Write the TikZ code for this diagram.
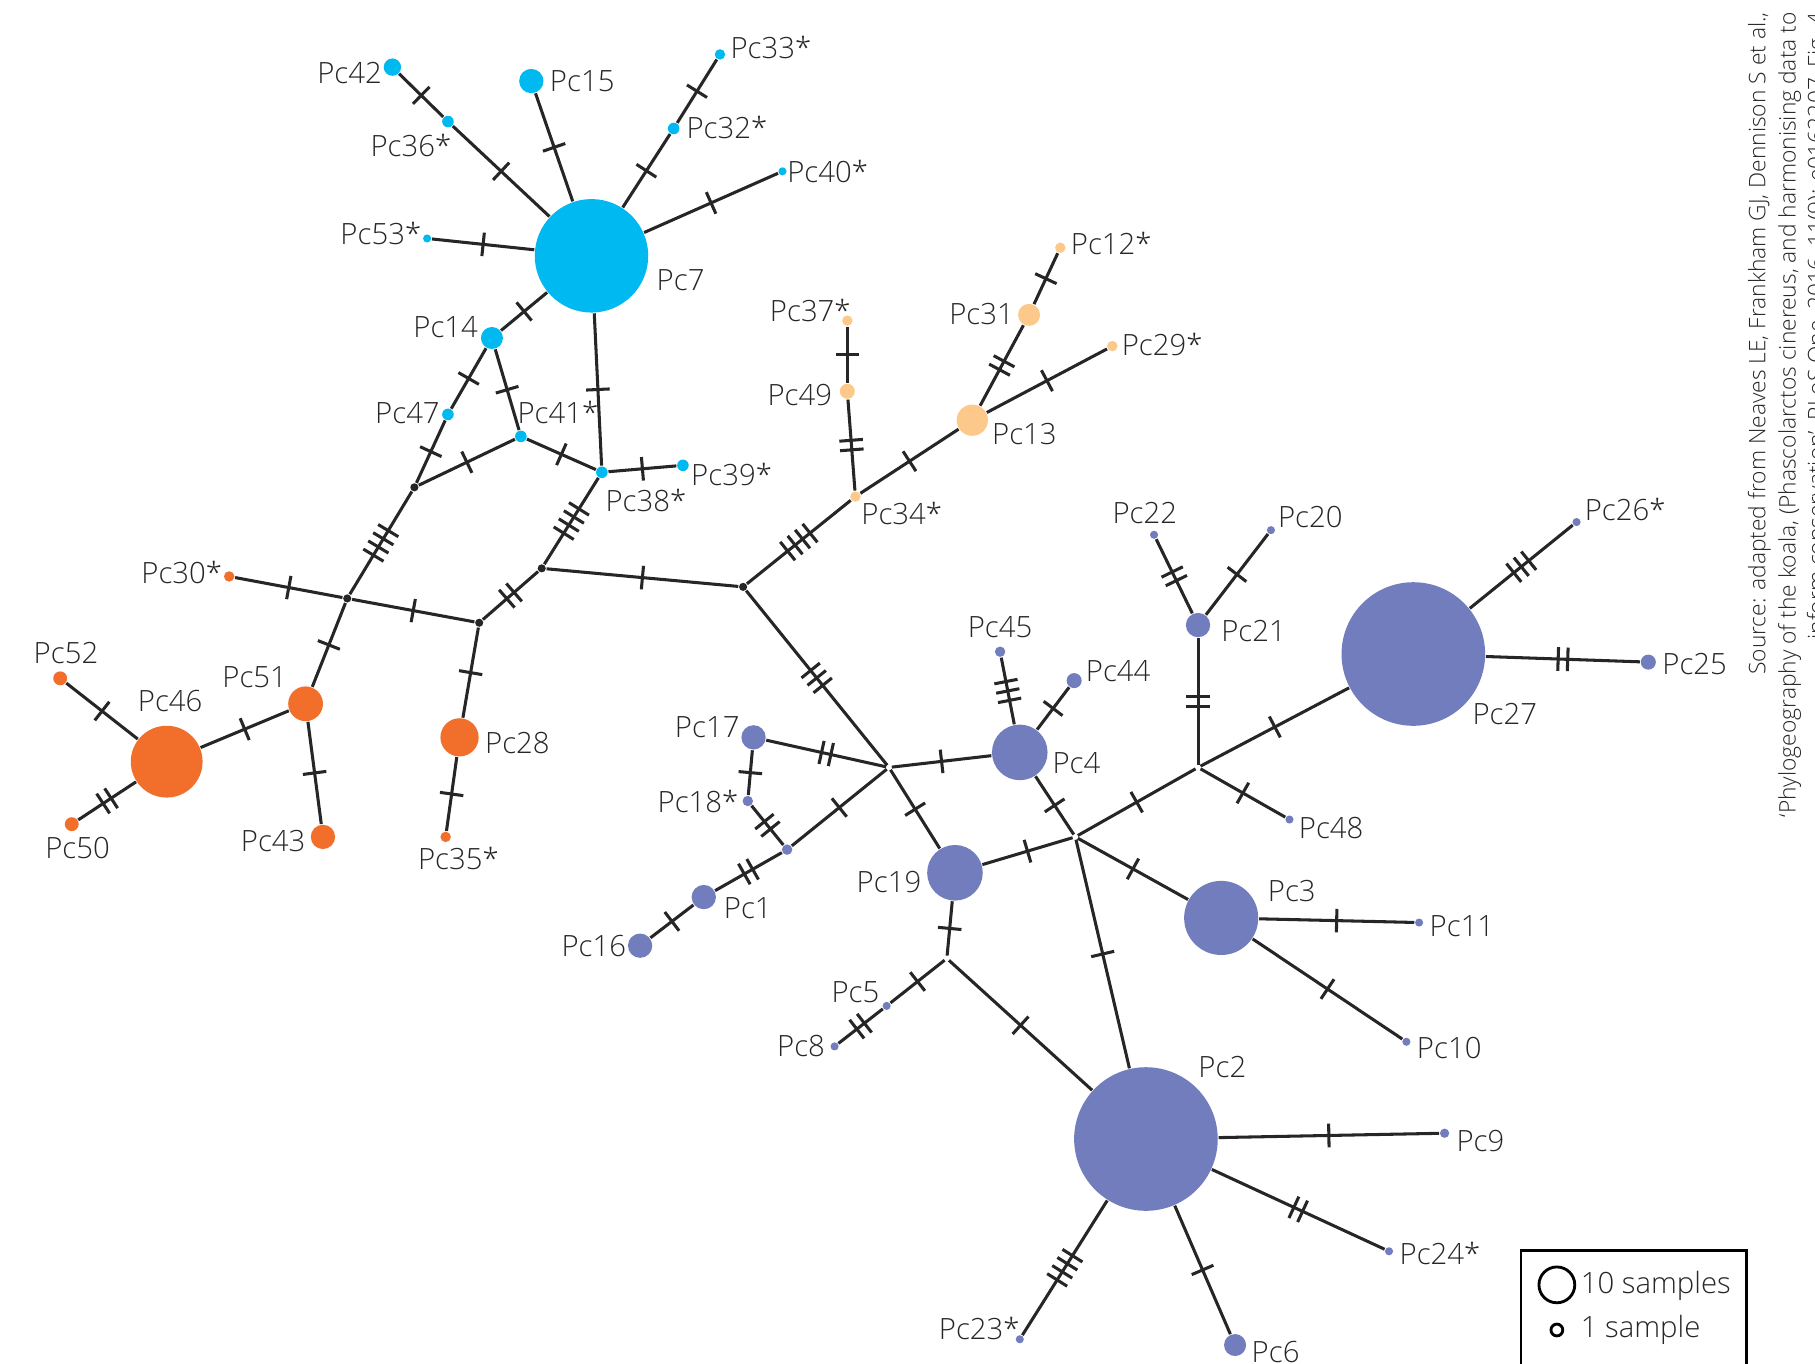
\documentclass[tikz,border=0pt]{standalone}
\usepackage{fontspec}
\setmainfont{Open Sans}
\begin{document}
\begin{tikzpicture}[x=0.01cm,y=-0.01cm,
  lbl/.style={font=\fontsize{7.2}{8}\selectfont\fontspec{Open Sans Light}, text=black!85, inner sep=0pt},
  cy/.style={circle, fill=cy, inner sep=0pt},
  or/.style={circle, fill=orn, inner sep=0pt},
  lo/.style={circle, fill=lor, inner sep=0pt},
  pu/.style={circle, fill=pur, inner sep=0pt},
  jn/.style={circle, fill=black!85, inner sep=0pt, minimum size=2pt},
  ed/.style={line width=0.75pt, black!85},
  tk/.style={sloped, midway, inner sep=0pt, black!85}]
\definecolor{cy}{HTML}{00B9F1}
\definecolor{orn}{HTML}{F26F2B}
\definecolor{lor}{HTML}{FDC98B}
\definecolor{pur}{HTML}{717DBD}
\newcommand\tk[1]{\foreach \i in {1,...,#1}{\rule[-2.9pt]{0.75pt}{5.8pt}\ifnum\i<#1\hspace{1.6pt}\fi}}
\useasboundingbox (0,0) rectangle (1568,1178);
\clip (0,0) rectangle (1568,1178);
\foreach \n/\x/\y/\r/\s in {7/511/221/98/cy,42/339/58/15/cy,36/387/105/10/cy,15/459/70/21/cy,33/622/47/9/cy,32/582/111/10/cy,40/676/148/7/cy,53/369/206/7/cy,14/425/292/19/cy,47/387/358/10/cy,41/450/377/10/cy,38/520/408/10/cy,39/590/402/10/cy,
 30/198/498/9/or,51/264/608/30/or,46/144/658/62/or,52/52/586/12/or,50/62/712/12/or,43/279/723/21/or,28/397/637/33/or,35/385/723/9/or,
 34/739/429/9/lo,49/732/338/13/lo,37/732/277/9/lo,13/840/363/27/lo,31/889/272/19/lo,12/916/214/9/lo,29/961/299/9/lo,
 27/1221/565/124/pu,26/1362/451/7/pu,25/1424/572/13/pu,21/1035/540/21/pu,22/997/462/7/pu,20/1098/458/7/pu,48/1114/708/7/pu,4/881/650/48/pu,45/864/563/9/pu,44/928/588/13/pu,17/651/637/21/pu,18/646/692/9/pu,1/608/775/21/pu,16/553/817/21/pu,19/825/754/48/pu,5/766/869/7/pu,8/721/904/7/pu,3/1055/793/64/pu,11/1226/797/7/pu,10/1215/900/7/pu,2/990/984/124/pu,9/1248/979/8/pu,24/1200/1081/7/pu,23/881/1157/7/pu,6/1067/1162/19/pu,u/680/734/9/pu}
  \node[\s, minimum size=\r*0.2845pt] (p\n) at (\x,\y) {};
\foreach \n/\x/\y in {1/358/421,2/468/491,3/300/517,4/414/538,5/642/507}
  \node[jn] (j\n) at (\x,\y) {};
\foreach \n/\x/\y in {6/768/663,8/929/723,9/1035/663,10/818/828}
  \node[circle,inner sep=0pt,minimum size=1pt] (j\n) at (\x,\y) {};
\foreach \a/\b/\k in {p42/p36/1,p36/p7/1,p7/p15/1,p7/p32/1,p32/p33/1,p7/p40/1,p7/p53/1,p7/p14/1,p7/p38/1,
 p14/p47/1,p47/j1/1,p14/p41/1,p41/j1/1,p41/p38/1,p38/p39/1,p38/j2/4,j1/j3/4,j3/p30/1,j3/j4/1,j3/p51/1,j4/j2/2,j4/p28/1,p28/p35/1,p51/p46/1,p51/p43/1,p46/p52/1,p46/p50/2,
 j2/j5/1,j5/p34/4,p34/p49/2,p49/p37/1,p34/p13/1,p13/p31/2,p31/p12/1,p13/p29/1,
 j5/j6/3,j6/p17/2,j6/p4/1,j6/pu/1,j6/p19/1,pu/p18/2,p18/p17/1,pu/p1/2,p1/p16/1,p4/p45/3,p4/p44/1,p4/j8/1,p19/j8/1,p19/j10/1,j10/p5/1,p5/p8/2,j10/p2/1,j8/p2/1,j8/p3/1,j8/j9/1,j9/p48/1,j9/p21/2,p21/p22/2,p21/p20/1,j9/p27/1,p27/p26/3,p27/p25/2,p3/p11/1,p3/p10/1,p2/p9/1,p2/p24/2,p2/p23/4,p2/p6/1}
  \draw[ed] (\a) -- node[tk]{\tk{\k}} (\b);
\foreach \t/\x/\y in {42/302/63,15/503/70,33*/666/41,36*/355/126,32*/628/110,40*/715/148,53*/329/202,7/588/242,14/385/283,47/352/357,41*/482/356,38*/558/432,39*/632/410,30*/157/495,52/57/564,46/147/606,51/220/585,50/67/733,43/236/727,28/447/642,35*/396/742,37*/700/268,49/691/341,34*/779/444,13/885/375,31/848/271,12*/960/210,29*/1004/298,22/989/443,20/1132/447,21/1083/545,45/864/542,44/966/580,4/930/659,17/611/628,18*/603/692,1/646/785,16/513/817,19/768/762,5/739/857,8/692/904,3/1116/770,11/1263/800,10/1252/905,2/1056/922,9/1279/986,24*/1244/1083,23*/846/1148,6/1102/1168,27/1300/617,26*/1404/440,25/1464/574,48/1150/715}
  \node[lbl] (l\t) at (\x,\y) {Pc\t};
\draw[line width=0.7pt] (1314,1185) -- (1314,1080) -- (1509,1080) -- (1509,1185);
\node[circle,draw,line width=0.7pt,minimum size=8.8pt,inner sep=0pt] (lg1) at (1345,1110) {};
\node[circle,draw,line width=0.7pt,minimum size=2.9pt,inner sep=0pt] (lg2) at (1345,1149) {};
\node[lbl,anchor=west] (lt1) at (1365,1111) {10 samples};
\node[lbl,anchor=west] (lt2) at (1365,1149) {1 sample};
\begin{scope}[every node/.style={lbl,font=\fontsize{5.6}{6}\selectfont\fontspec{Open Sans Light},rotate=90,anchor=east}]
\node (s1) at (1520,10) {Source: adapted from Neaves LE, Frankham GJ, Dennison S et al.,};
\node (s2) at (1546,10) {‘Phylogeography of the koala, (Phascolarctos cinereus, and harmonising data to};
\node (s3) at (1571,10) {inform conservation’, PLoS One, 2016, 11(9): e0162207, Fig. 4};
\end{scope}
\end{tikzpicture}
\end{document}
